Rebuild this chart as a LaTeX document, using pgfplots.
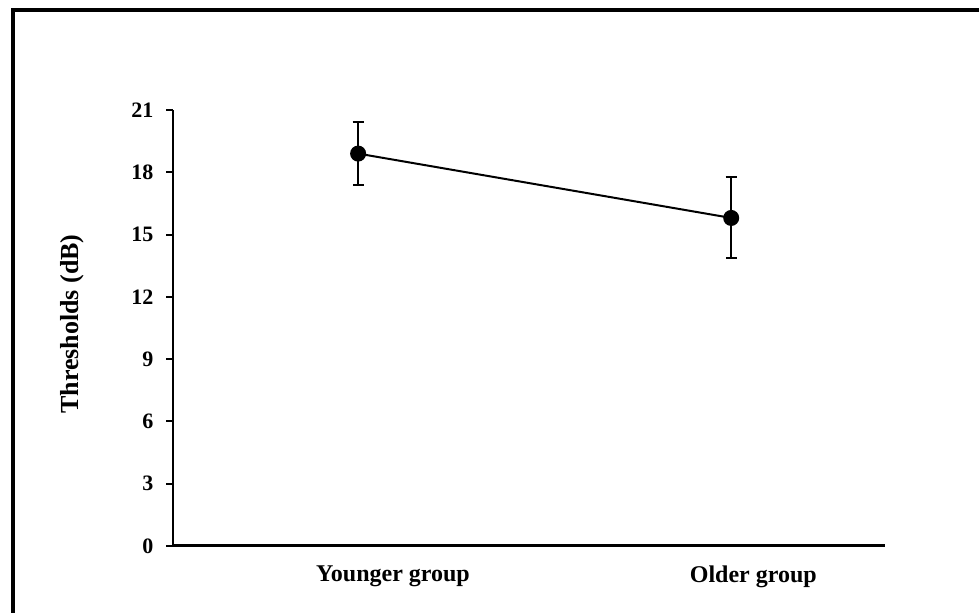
\documentclass[border=0pt]{standalone}
\usepackage{fontspec}
\setmainfont{Liberation Serif}
\usepackage{pgfplots}
\pgfplotsset{compat=1.18}
\begin{document}
\begin{tikzpicture}
\useasboundingbox (0,0) rectangle (489.5pt,306.5pt);
\fill[white] (0,0) rectangle (489.5pt,306.5pt);
\draw[line width=1.75pt, black] (6.5pt,0) -- (6.5pt,301.5pt) -- (489.5pt,301.5pt);
\begin{axis}[
  at={(86.5pt,33.5pt)}, anchor=south west,
  scale only axis, width=356pt, height=218pt,
  xmin=0, xmax=1, ymin=0, ymax=21,
  axis x line*=bottom, axis y line*=left,
  x axis line style={line width=1.5pt, -},
  y axis line style={line width=1pt, -},
  ytick={0,3,...,21},
  xtick={0.309,0.815},
  xticklabels={Younger group, Older group},
  x tick style={draw=none},
  major x tick style={draw=none},
  y tick style={line width=1pt, black},
  tick align=outside,
  major tick length=3.5pt,
  /pgf/number format/assume math mode=true,
  yticklabel style={font=\fontsize{11}{13}\selectfont\bfseries, xshift=-2.8pt},
  xticklabel style={font=\fontsize{12}{14}\selectfont\bfseries, yshift=-3pt},
  every axis y label/.style={at={(axis description cs:-0.142,0.509)}, rotate=90, anchor=center, font=\fontsize{13}{15}\selectfont\bfseries},
  ylabel={Thresholds (dB)},
  clip=false,
]
\addplot[black, line width=1pt, mark=*, mark size=3.5pt,
  error bars/.cd, y dir=both, y explicit,
  error bar style={line width=1pt, black},
  error mark options={rotate=90, mark size=2.75pt, line width=1pt}]
  coordinates {
    (0.260,18.9) +- (0,1.5)
    (0.784,15.8) +- (0,1.95)
  };
\end{axis}
\end{tikzpicture}
\end{document}
